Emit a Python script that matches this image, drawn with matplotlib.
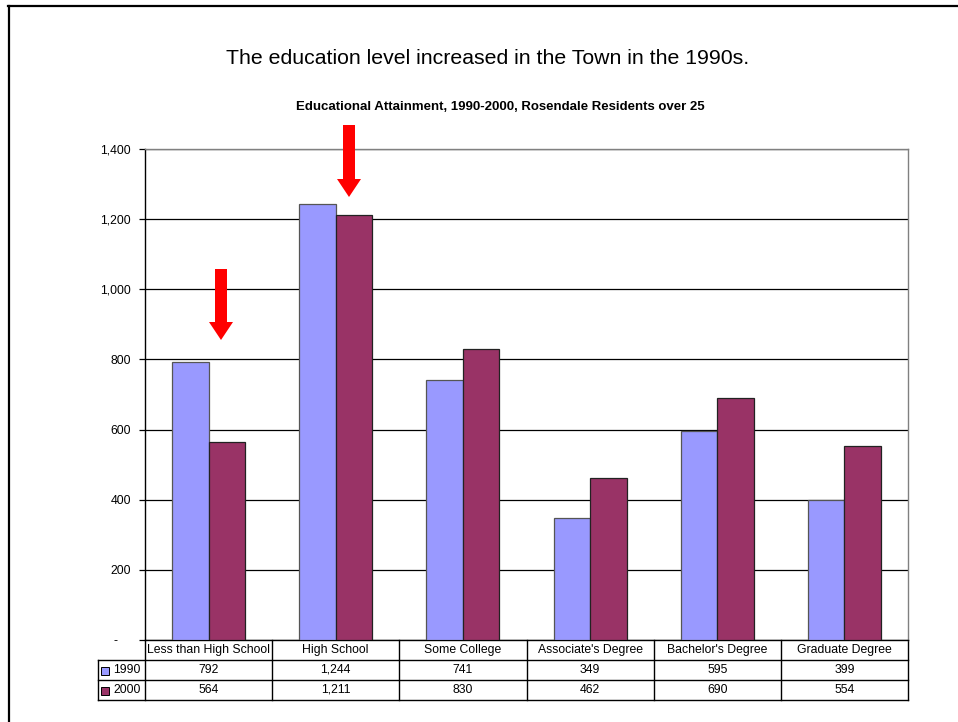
import matplotlib
matplotlib.use("Agg")
import matplotlib.pyplot as plt
from matplotlib.lines import Line2D
from matplotlib.patches import Rectangle, FancyArrow
import numpy as np

plt.rcParams['font.family'] = ['Liberation Sans', 'DejaVu Sans']

categories = ["Less than High School", "High School", "Some College",
              "Associate's Degree", "Bachelor's Degree", "Graduate Degree"]
series_names = ["1990", "2000"]
values_1990 = [792, 1244, 741, 349, 595, 399]
values_2000 = [564, 1211, 830, 462, 690, 554]
yticks = [0, 200, 400, 600, 800, 1000, 1200, 1400]

title = "The education level increased in the Town in the 1990s."
subtitle = "Educational Attainment, 1990-2000, Rosendale Residents over 25"

c1990 = "#9999FF"
c2000 = "#993366"
fs = 8.8

W, H = 958, 722
fig = plt.figure(figsize=(W / 100, H / 100), dpi=100)
fig.patch.set_facecolor("white")

# axes geometry in pixels
L, R, T, B = 145, 908, 149, 640
ax = fig.add_axes([L / W, 1 - B / H, (R - L) / W, (B - T) / H])

x = np.arange(len(categories))
bw = 0.287
ax.bar(x - bw / 2, values_1990, width=bw, color=c1990, edgecolor="#555555",
       linewidth=0.9, zorder=3)
ax.bar(x + bw / 2, values_2000, width=bw, color=c2000, edgecolor="#222222",
       linewidth=0.9, zorder=3)

ax.set_xlim(-0.5, len(categories) - 0.5)
ax.set_ylim(0, 1400)
ax.set_yticks(yticks)
ax.set_yticklabels(["-    " if v == 0 else f"{v:,}" for v in yticks], fontsize=fs)
ax.tick_params(axis="y", direction="out", length=4, width=0.9, pad=6, color="black")
ax.set_xticks([])
ax.yaxis.grid(True, color="black", linewidth=0.9, zorder=0)
ax.set_axisbelow(True)
for s in ["top", "right"]:
    ax.spines[s].set_color("#808080")
    ax.spines[s].set_linewidth(1.0)
for s in ["left", "bottom"]:
    ax.spines[s].set_color("black")
    ax.spines[s].set_linewidth(1.0)

# data table beneath the axes
rh = 20 / (B - T)  # row height in axes units
lab_left = (98 - L) / (R - L)
ncat = len(categories)
lk = dict(color="black", linewidth=1.0, transform=ax.transAxes, clip_on=False)
for k in (1, 2, 3):
    ax.add_line(Line2D([lab_left, 1], [-k * rh, -k * rh], **lk))
for i in range(ncat + 1):
    ax.add_line(Line2D([i / ncat, i / ncat], [0, -3 * rh], **lk))
ax.add_line(Line2D([lab_left, lab_left], [-rh, -3 * rh], **lk))

for i, cat in enumerate(categories):
    cx = (i + 0.5) / ncat
    ax.text(cx, -0.5 * rh, cat, ha="center", va="center", fontsize=fs,
            transform=ax.transAxes)
    ax.text(cx, -1.5 * rh, f"{values_1990[i]:,}", ha="center", va="center",
            fontsize=fs, transform=ax.transAxes)
    ax.text(cx, -2.5 * rh, f"{values_2000[i]:,}", ha="center", va="center",
            fontsize=fs, transform=ax.transAxes)

sq_w = 8 / (R - L)
sq_h = 8 / (B - T)
for k, (name, col) in enumerate(zip(series_names, [c1990, c2000])):
    yc = -(1.5 + k) * rh
    ax.add_patch(Rectangle(((101 - L) / (R - L), yc - sq_h / 2 - 0.002), sq_w, sq_h,
                           facecolor=col, edgecolor="black", linewidth=0.7,
                           transform=ax.transAxes, clip_on=False))
    ax.text((113 - L) / (R - L), yc, name, ha="left", va="center", fontsize=fs,
            transform=ax.transAxes)

# titles
fig.text(487.5 / W, 1 - 58.5 / H, title, ha="center", va="center", fontsize=15.3)
fig.text(500 / W, 1 - 107 / H, subtitle, ha="center", va="center", fontsize=9.5,
         fontweight="bold")

# red arrows (figure inches)
for (ax_px, top_px, tip_px) in [(221, 269, 340), (349, 125, 197)]:
    arr = FancyArrow(ax_px / 100, (H - top_px) / 100, 0, -(tip_px - top_px) / 100,
                     width=0.12, head_width=0.24, head_length=0.18,
                     length_includes_head=True, color="red", linewidth=0,
                     transform=fig.dpi_scale_trans)
    fig.add_artist(arr)

# slide border (left and top)
fig.add_artist(Line2D([9 / W, 9 / W], [0, 1 - 5.5 / H], color="black",
                      linewidth=1.6, transform=fig.transFigure))
fig.add_artist(Line2D([8 / W, 1], [1 - 5.5 / H, 1 - 5.5 / H], color="black",
                      linewidth=1.6, transform=fig.transFigure))

fig.savefig("out.png", dpi=100)
